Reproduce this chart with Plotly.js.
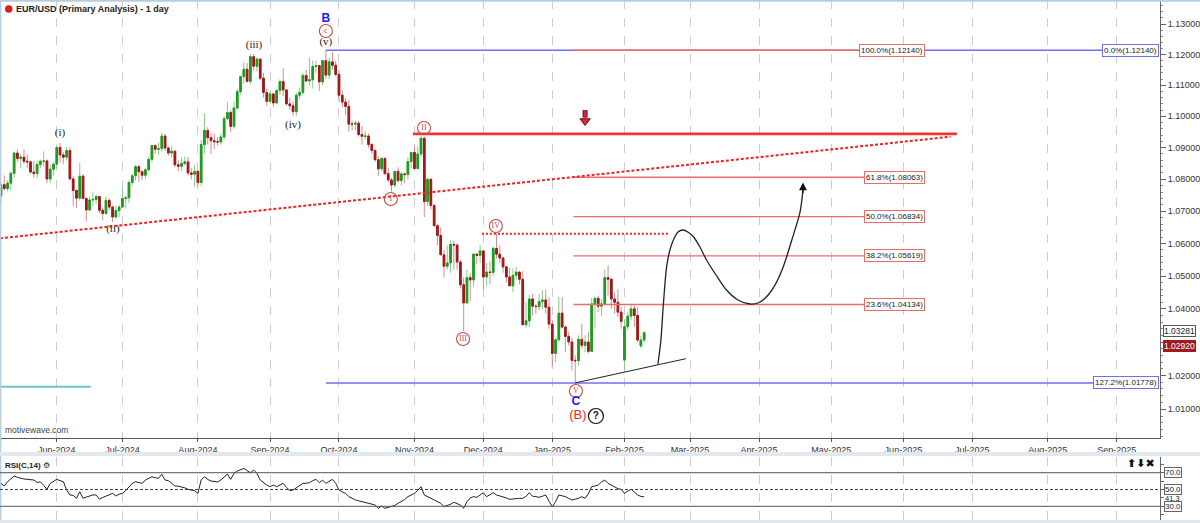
<!DOCTYPE html>
<html><head><meta charset="utf-8">
<script src="https://cdn.plot.ly/plotly-3.0.1.min.js"></script>
<style>html,body{margin:0;padding:0;background:#fff}</style>
</head><body><div id="chart" style="width:1200px;height:523px"></div>
<script>
// ---------- calendar (trading days) ----------
const calendarStart = '2024-05-09';
const calendarEnd = '2025-09-30';
const holidays = ['2024-12-25', '2025-01-01'];

// ---------- price data (daily OHLC, EUR/USD) ----------
const open = [
1.0748,1.0783,1.0771,1.0788,1.0819,1.0883,1.0866,1.0870,1.0857,1.0855,1.0823,1.0818,1.0847,1.0857,1.0858,1.0801,1.0832,
1.0848,1.0901,1.0877,1.0870,1.0891,1.0801,1.0765,1.0741,1.0810,1.0740,1.0704,1.0735,1.0737,1.0746,1.0703,1.0693,1.0734,1.0713,1.0682,1.0702,
1.0713,1.0740,1.0742,1.0790,1.0811,1.0840,1.0824,1.0813,1.0830,1.0863,1.0907,1.0895,1.0897,1.0937,1.0899,1.0883,1.0889,1.0846,1.0841,1.0850,1.0855,1.0820,1.0816,
1.0825,1.0790,1.0910,1.0955,1.0932,1.0922,1.0919,1.0918,1.0934,1.0992,1.1012,1.0968,1.1027,1.1080,1.1128,1.1152,1.1113,1.1193,1.1162,1.1185,1.1123,1.1077,
1.1048,1.1072,1.1043,1.1083,1.1112,1.1085,1.1040,1.1034,1.1015,1.1068,1.1077,1.1132,1.1114,1.1118,1.1161,1.1164,1.1111,1.1180,1.1133,1.1176,1.1165,
1.1135,1.1068,1.1046,1.1032,1.0975,1.0975,1.0978,1.0942,1.0936,1.0937,1.0910,1.0891,1.0862,1.0833,1.0866,1.0818,1.0798,1.0782,1.0825,1.0796,1.0817,1.0815,1.0856,
1.0885,1.0834,1.0880,1.0930,1.0730,1.0800,1.0718,1.0655,1.0625,1.0565,1.0530,1.0540,1.0597,1.0595,1.0543,1.0473,1.0418,1.0495,1.0488,1.0567,1.0563,
1.0577,1.0497,1.0512,1.0511,1.0585,1.0567,1.0555,1.0528,1.0497,1.0470,1.0502,1.0512,1.0490,1.0352,1.0364,1.0430,1.0408,1.0407,1.0422,1.0427,1.0405,
1.0354,1.0266,1.0307,1.0387,1.0345,1.0317,1.0300,1.0245,1.0244,1.0308,1.0290,1.0300,1.0272,1.0415,1.0432,1.0408,1.0415,1.0495,1.0490,1.0430,1.0420,1.0390,
1.0246,1.0346,1.0378,1.0400,1.0380,1.0288,1.0306];
const high = [
1.0791,1.0812,1.0797,1.0825,1.0887,1.0895,1.0880,1.0895,1.0878,1.0860,1.0858,1.0858,1.0862,1.0888,1.0863,1.0847,1.0853,
1.0902,1.0916,1.0886,1.0902,1.0901,1.0809,1.0768,1.0852,1.0816,1.0743,1.0745,1.0761,1.0752,1.0747,1.0712,1.0746,1.0740,1.0718,1.0718,1.0720,
1.0776,1.0748,1.0797,1.0817,1.0845,1.0845,1.0829,1.0836,1.0872,1.0907,1.0910,1.0915,1.0948,1.0945,1.0904,1.0905,1.0891,1.0860,1.0869,1.0872,1.0870,1.0835,1.0845,
1.0830,1.0925,1.1009,1.0965,1.0948,1.0945,1.0933,1.0945,1.1000,1.1047,1.1020,1.1047,1.1088,1.1130,1.1174,1.1172,1.1201,1.1202,1.1190,1.1186,1.1140,1.1089,
1.1079,1.1074,1.1085,1.1120,1.1155,1.1087,1.1060,1.1048,1.1075,1.1093,1.1140,1.1150,1.1190,1.1180,1.1180,1.1166,1.1182,1.1214,1.1190,1.1209,1.1180,
1.1150,1.1085,1.1058,1.1052,1.0986,1.0985,1.0985,1.0969,1.0954,1.0945,1.0915,1.0897,1.0873,1.0870,1.0869,1.0836,1.0804,1.0826,1.0838,1.0823,1.0822,1.0870,1.0885,
1.0905,1.0905,1.0937,1.0935,1.0805,1.0803,1.0723,1.0660,1.0650,1.0580,1.0595,1.0610,1.0609,1.0600,1.0550,1.0497,1.0520,1.0510,1.0570,1.0570,1.0596,
1.0580,1.0540,1.0545,1.0590,1.0630,1.0595,1.0560,1.0530,1.0525,1.0524,1.0528,1.0515,1.0515,1.0420,1.0443,1.0446,1.0415,1.0445,1.0456,1.0458,1.0435,
1.0366,1.0310,1.0437,1.0436,1.0350,1.0330,1.0313,1.0260,1.0320,1.0355,1.0320,1.0330,1.0433,1.0435,1.0440,1.0430,1.0520,1.0533,1.0495,1.0450,1.0460,1.0405,
1.0370,1.0390,1.0412,1.0410,1.0405,1.0318,1.0332];
const low = [
1.0724,1.0765,1.0763,1.0767,1.0805,1.0856,1.0835,1.0848,1.0836,1.0818,1.0805,1.0804,1.0836,1.0841,1.0788,1.0789,1.0812,
1.0835,1.0853,1.0848,1.0859,1.0801,1.0717,1.0710,1.0733,1.0738,1.0668,1.0700,1.0715,1.0723,1.0695,1.0671,1.0690,1.0702,1.0666,1.0677,1.0681,
1.0710,1.0708,1.0725,1.0780,1.0797,1.0791,1.0797,1.0800,1.0826,1.0853,1.0880,1.0876,1.0887,1.0890,1.0875,1.0870,1.0838,1.0825,1.0826,1.0842,1.0813,1.0800,1.0775,
1.0777,1.0778,1.0882,1.0910,1.0880,1.0896,1.0907,1.0910,1.0925,1.0990,1.0950,1.0960,1.1020,1.1070,1.1105,1.1108,1.1103,1.1150,1.1145,1.1117,1.1060,1.1034,
1.1040,1.1031,1.1040,1.1070,1.1065,1.1035,1.1020,1.1002,1.1000,1.1055,1.1070,1.1110,1.1100,1.1090,1.1140,1.1082,1.1100,1.1120,1.1120,1.1150,1.1130,
1.1045,1.1030,1.1003,1.0951,1.0955,1.0955,1.0935,1.0910,1.0925,1.0900,1.0880,1.0855,1.0811,1.0826,1.0813,1.0792,1.0761,1.0775,1.0790,1.0780,1.0788,1.0800,1.0835,
1.0830,1.0830,1.0870,1.0682,1.0716,1.0705,1.0653,1.0595,1.0565,1.0496,1.0520,1.0510,1.0520,1.0520,1.0462,1.0332,1.0415,1.0425,1.0468,1.0535,1.0540,
1.0460,1.0470,1.0475,1.0500,1.0553,1.0540,1.0510,1.0480,1.0470,1.0450,1.0490,1.0475,1.0350,1.0343,1.0345,1.0380,1.0385,1.0395,1.0400,1.0385,1.0340,
1.0226,1.0240,1.0300,1.0340,1.0270,1.0290,1.0215,1.0178,1.0230,1.0280,1.0270,1.0265,1.0270,1.0340,1.0390,1.0378,1.0412,1.0440,1.0400,1.0385,1.0375,1.0340,
1.0211,1.0335,1.0366,1.0345,1.0300,1.0282,1.0298];
const close = [
1.0783,1.0771,1.0788,1.0819,1.0883,1.0866,1.0870,1.0857,1.0855,1.0823,1.0818,1.0847,1.0857,1.0858,1.0801,1.0832,1.0848,
1.0901,1.0877,1.0870,1.0891,1.0801,1.0765,1.0741,1.0810,1.0740,1.0704,1.0735,1.0737,1.0746,1.0703,1.0693,1.0734,1.0713,1.0682,1.0702,1.0713,
1.0740,1.0742,1.0790,1.0811,1.0840,1.0824,1.0813,1.0830,1.0863,1.0907,1.0895,1.0897,1.0937,1.0899,1.0883,1.0889,1.0846,1.0841,1.0850,1.0855,1.0820,1.0816,1.0825,
1.0790,1.0910,1.0955,1.0932,1.0922,1.0919,1.0918,1.0934,1.0992,1.1012,1.0968,1.1027,1.1080,1.1128,1.1152,1.1113,1.1193,1.1162,1.1185,1.1123,1.1077,1.1048,
1.1072,1.1043,1.1083,1.1112,1.1085,1.1040,1.1034,1.1015,1.1068,1.1077,1.1132,1.1114,1.1118,1.1161,1.1164,1.1111,1.1180,1.1133,1.1176,1.1165,1.1135,
1.1068,1.1046,1.1032,1.0975,1.0975,1.0978,1.0942,1.0936,1.0937,1.0910,1.0891,1.0862,1.0833,1.0866,1.0818,1.0798,1.0782,1.0825,1.0796,1.0817,1.0815,1.0856,1.0885,
1.0834,1.0880,1.0930,1.0730,1.0800,1.0718,1.0655,1.0625,1.0565,1.0530,1.0540,1.0597,1.0595,1.0543,1.0473,1.0418,1.0495,1.0488,1.0567,1.0563,1.0577,
1.0497,1.0512,1.0511,1.0585,1.0567,1.0555,1.0528,1.0497,1.0470,1.0502,1.0512,1.0490,1.0352,1.0364,1.0430,1.0408,1.0407,1.0422,1.0427,1.0405,1.0354,
1.0266,1.0307,1.0387,1.0345,1.0317,1.0300,1.0245,1.0244,1.0308,1.0290,1.0300,1.0272,1.0415,1.0432,1.0408,1.0415,1.0495,1.0490,1.0430,1.0420,1.0390,1.0362,
1.0346,1.0378,1.0400,1.0380,1.0306,1.0306,1.03281];

// ---------- RSI(C,14) values ----------
const rsi = [
57.3,54.2,59.3,63,66,64.5,63.3,62.5,62.1,61.5,61.3,58.5,59,55,50.2,57.3,60,
62.1,60.5,59.3,49.4,43.5,43,39.5,47.4,39.5,41,42.3,43.5,43.5,38.5,40.5,42.3,44,45.4,42.3,44.5,
45.4,48.6,53,57.3,59.3,58.3,57.3,61.3,63,65.2,64,63.3,68,61.3,60.5,57,54.2,54,53.4,52,50.2,49,48.6,
45.4,61.3,65.2,62,60.1,59.5,58.9,61.3,65,68.4,62.1,69.2,72,74,75.1,72.4,70,73.2,69.2,61.3,58,55.3,
53.4,55.3,53.4,55.5,57.3,52.6,48.6,49.4,52,55.3,57.3,57.5,58.1,60.5,62.1,58.1,61.3,57.3,60,62.1,57.3,
49.4,47,45.4,41.5,39.5,37.5,36.5,35.5,34.5,33.6,32.5,31.6,27.6,30.4,27.6,28.5,29.6,31,33.6,35.5,38,41.5,43.5,
45.4,49,53.4,43.5,41.5,40,37.5,35.5,33.6,29.6,31,32.4,34.8,33.6,31.5,27.6,35.5,40,41.5,40.7,44,
46.2,41.5,43.5,46.2,43.5,42.5,41.5,40,38.3,39,39.5,39.5,39.5,42,46.2,42,41.5,40.7,42,43.5,36,
29.6,35.5,43.5,42.5,41.5,39.5,37.5,38.5,39.5,41.5,39.5,45,53.4,54.2,55.3,59,61.3,57.3,55,53.4,51,50.2,
45.4,48,50.2,47,43.5,41.8,41.3];

// ---------- price scale ticks (1.03000 is hidden behind the price boxes) ----------
const priceTicks = [1.01,1.02,1.03,1.04,1.05,1.06,1.07,1.08,1.09,1.10,1.11,1.12,1.13];
const hiddenTickLabels = [1.03];
const priceTickText = priceTicks.map(v => hiddenTickLabels.indexOf(v) >= 0 ? '' : v.toFixed(5));

// ---------- Fibonacci levels ----------
const fibRetrace = [
  {label:'100.0%', value:1.12140},
  {label:'61.8%', value:1.08063},
  {label:'50.0%', value:1.06834},
  {label:'38.2%', value:1.05619},
  {label:'23.6%', value:1.04134}];
const fibExtension = [
  {label:'0.0%', value:1.12140},
  {label:'127.2%', value:1.01778}];
const lastValues = {close:1.03281, bid:1.02920, rsi:41.3};

// ---------- helpers ----------
const DAY = 86400000;
function tradingDays(start, end, skip){
  const out = [];
  let t = Date.parse(start + 'T12:00:00Z');
  const e = Date.parse(end + 'T12:00:00Z');
  while (t <= e) {
    const d = new Date(t), wd = d.getUTCDay(), s = d.toISOString().slice(0,10);
    if (wd !== 0 && wd !== 6 && skip.indexOf(s) < 0) out.push(t);
    t += DAY;
  }
  return out;
}
function fmt(ms){ return new Date(ms).toISOString().slice(0,16).replace('T',' '); }
const calMs = tradingDays(calendarStart, calendarEnd, holidays);
// fractional bar position -> date that never falls inside a weekend/holiday gap
function barDate(i){
  if (i < 0) return fmt(calMs[0] + i*DAY);
  const b = Math.floor(i), f = i - b;
  if (f < 0.5) return fmt(calMs[b] + f*DAY);
  return fmt(calMs[b+1] - (1-f)*DAY + 120000);
}
const L = v => Math.log10(v);
const dates = calMs.slice(0, close.length).map(fmt);

// month ticks
const monthTicks = [], monthText = [];
const MON = ['Jan','Feb','Mar','Apr','May','Jun','Jul','Aug','Sep','Oct','Nov','Dec'];
let prevM = -1;
calMs.forEach((t,i) => {
  const d = new Date(t), m = d.getUTCMonth();
  if (m !== prevM) { if (i > 0) { monthTicks.push(fmt(t)); monthText.push(MON[m] + '-' + d.getUTCFullYear()); } prevM = m; }
});

// ---------- drawing anchors (bar positions of the analyst's drawings) ----------
const xRange = [barDate(-0.305), barDate(353.2)];
const fibRetraceSpan = [174.45, 281.6];
const fibExtSpan = [99, 352.9];
const waveTwoLevel = {from:125.5, to:291.3, value:1.0944};
const trendChannel = {from:-0.305, fromValue:1.0616, to:289.4, toValue:1.0935};
const waveFourLevel = {from:146.55, to:203.6, value:1.0630};
const supportLine = {from:175, fromValue:1.0178, to:208.7, toValue:1.0250};
const tealLevel = {from:-0.305, to:27.3, value:1.01667};
const sellArrow = {at:178, shaftTop:1.1020, shaftBottom:1.0996, head:1.0985};
const projection = [
  [200.2,1.02342],[201.1,1.0306],[201.8,1.04065],[202.85,1.05286],[203.85,1.05799],[204.9,1.06107],
  [206.3,1.06355],[207.9,1.06417],[209.3,1.06355],[211.0,1.06209],[213.0,1.05891],[215.0,1.05492],
  [217.9,1.05031],[221.1,1.04572],[224.6,1.04268],[228.2,1.04147],[230.7,1.04177],[233.3,1.04368],
  [235.9,1.0473],[238.4,1.05286],[241.0,1.06107],[243.5,1.06976],[244.4,1.0766]];

const wavePlain = [
  {t:'(i)', i:18.0, v:1.09467}, {t:'(ii)', i:34.1, v:1.06448}, {t:'(iii)', i:77.1, v:1.12311},
  {t:'(iv)', i:89.0, v:1.09724}, {t:'(v)', i:99.0, v:1.12410}];
const waveCircled = [
  {t:'c', i:99.0, v:1.12770}, {t:'II', i:128.9, v:1.09628}, {t:'I', i:118.8, v:1.07383},
  {t:'III', i:140.8, v:1.03090}, {t:'IV', i:150.8, v:1.06541}, {t:'V', i:175.2, v:1.01540}];

// ---------- traces ----------
const FONT = 'Liberation Sans, Arial, sans-serif';
const traces = [];
// blue fib extension lines
fibExtension.forEach(f => traces.push({type:'scatter', mode:'lines', x:[barDate(fibExtSpan[0]), barDate(fibExtSpan[1])], y:[f.value,f.value],
  line:{color:'#6f6ff2', width:1.6}, hoverinfo:'skip'}));
// red fib retracement lines
fibRetrace.forEach(f => traces.push({type:'scatter', mode:'lines', x:[barDate(fibRetraceSpan[0]), barDate(fibRetraceSpan[1])], y:[f.value,f.value],
  line:{color:'#f06a6a', width:1.4}, hoverinfo:'skip'}));
// teal level
traces.push({type:'scatter', mode:'lines', x:[barDate(tealLevel.from), barDate(tealLevel.to)], y:[tealLevel.value,tealLevel.value],
  line:{color:'#6cc6c4', width:2}, hoverinfo:'skip'});
// candle wicks (full range)
traces.push({type:'candlestick', x:dates, open:open, high:high, low:low, close:close,
  increasing:{line:{color:'#8cc98c', width:1}, fillcolor:'#8cc98c'},
  decreasing:{line:{color:'#cf9090', width:1}, fillcolor:'#cf9090'},
  hoverinfo:'skip', xaxis:'x', yaxis:'y'});
// candle bodies
traces.push({type:'candlestick', x:dates, open:open, close:close,
  high:open.map((o,k)=>Math.max(o,close[k])), low:open.map((o,k)=>Math.min(o,close[k])),
  increasing:{line:{color:'#1f9a1f', width:1}, fillcolor:'#1f9a1f'},
  decreasing:{line:{color:'#a01818', width:1}, fillcolor:'#a01818'},
  hoverinfo:'skip', xaxis:'x', yaxis:'y'});
// red dashed channel line
traces.push({type:'scatter', mode:'lines', x:[barDate(trendChannel.from), barDate(trendChannel.to)], y:[trendChannel.fromValue, trendChannel.toValue],
  line:{color:'#ee2020', width:2, dash:'3px,2px'}, hoverinfo:'skip'});
// wave (ii) level
traces.push({type:'scatter', mode:'lines', x:[barDate(waveTwoLevel.from), barDate(waveTwoLevel.to)], y:[waveTwoLevel.value,waveTwoLevel.value],
  line:{color:'#f03535', width:2.6}, hoverinfo:'skip'});
// wave (iv) dotted level
traces.push({type:'scatter', mode:'lines', x:[barDate(waveFourLevel.from), barDate(waveFourLevel.to)], y:[waveFourLevel.value,waveFourLevel.value],
  line:{color:'#ee2020', width:2, dash:'2px,2px'}, hoverinfo:'skip'});
// support line
traces.push({type:'scatter', mode:'lines', x:[barDate(supportLine.from), barDate(supportLine.to)], y:[supportLine.fromValue, supportLine.toValue],
  line:{color:'#222', width:1}, hoverinfo:'skip'});
// projection path
traces.push({type:'scatter', mode:'lines', x:projection.map(p=>barDate(p[0])), y:projection.map(p=>p[1]),
  line:{color:'#222', width:1.3, shape:'spline', smoothing:0.8}, hoverinfo:'skip'});
// red sell arrow: outlined shaft + head
traces.push({type:'scatter', mode:'lines', x:[barDate(sellArrow.at), barDate(sellArrow.at)], y:[sellArrow.shaftTop, sellArrow.shaftBottom],
  line:{color:'#5a1414', width:5}, hoverinfo:'skip'});
traces.push({type:'scatter', mode:'lines', x:[barDate(sellArrow.at), barDate(sellArrow.at)], y:[sellArrow.shaftTop*0.99995, sellArrow.shaftBottom],
  line:{color:'#e0203c', width:3}, hoverinfo:'skip'});
traces.push({type:'scatter', mode:'markers', x:[barDate(sellArrow.at)], y:[sellArrow.head],
  marker:{symbol:'triangle-down', size:9, color:'#e0203c', line:{color:'#5a1414', width:1}}, hoverinfo:'skip'});
// plain wave labels
traces.push({type:'scatter', mode:'text', x:wavePlain.map(w=>barDate(w.i)), y:wavePlain.map(w=>w.v), text:wavePlain.map(w=>w.t),
  textfont:{family:'Liberation Serif, Times New Roman, serif', size:11, color:'#222'}, textposition:'middle center', hoverinfo:'skip', cliponaxis:false});
// circled wave labels
traces.push({type:'scatter', mode:'markers+text', x:waveCircled.map(w=>barDate(w.i)), y:waveCircled.map(w=>w.v), text:waveCircled.map(w=>w.t),
  marker:{symbol:'circle-open', size:13, color:'#c8484a', line:{width:1.1}},
  textfont:{family:'Liberation Serif, Times New Roman, serif', size:8, color:'#c8484a'}, textposition:'middle center', hoverinfo:'skip'});
// B / C / (B) / ?
traces.push({type:'scatter', mode:'text', x:[barDate(99), barDate(175.2)], y:[1.13165, 1.01215], text:['<b>B</b>','<b>C</b>'],
  textfont:{family:FONT, size:12, color:'#1a1aff'}, textposition:'middle center', hoverinfo:'skip'});
traces.push({type:'scatter', mode:'text', x:[barDate(175.8)], y:[1.00803], text:['(B)'],
  textfont:{family:FONT, size:13, color:'#f02525'}, textposition:'middle center', hoverinfo:'skip'});
traces.push({type:'scatter', mode:'markers+text', x:[barDate(181.3)], y:[1.00803], text:['<b>?</b>'],
  marker:{symbol:'circle-open', size:15, color:'#111', line:{width:1.2}},
  textfont:{family:FONT, size:10, color:'#111'}, textposition:'middle center', hoverinfo:'skip'});
// RSI
traces.push({type:'scatter', mode:'lines', x:dates, y:rsi, xaxis:'x2', yaxis:'y2',
  line:{color:'#222', width:1}, hoverinfo:'skip'});

// ---------- annotations ----------
const ann = [];
fibRetrace.forEach(f => ann.push({xref:'x', yref:'y', x:barDate(fibRetraceSpan[1]), y:L(f.value), xanchor:'right', yanchor:'middle',
  text:f.label + '(' + f.value.toFixed(5) + ')', showarrow:false, font:{family:FONT, size:8, color:'#222'},
  bgcolor:'#fff', bordercolor:'#f06a6a', borderwidth:1, borderpad:1}));
fibExtension.forEach(f => ann.push({xref:'x', yref:'y', x:barDate(fibExtSpan[1]), y:L(f.value), xanchor:'right', yanchor:'middle',
  text:f.label + '(' + f.value.toFixed(5) + ')', showarrow:false, font:{family:FONT, size:8, color:'#222'},
  bgcolor:'#fff', bordercolor:'#6f6ff2', borderwidth:1, borderpad:1}));
// projection arrow head
const tip = projection[projection.length-1];
ann.push({xref:'x', yref:'y', x:barDate(tip[0]), y:L(1.0790), ax:0, ay:12, showarrow:true, arrowhead:2, arrowsize:1.2, arrowwidth:1.3, arrowcolor:'#111', text:''});
// price labels on the axis
ann.push({xref:'paper', yref:'y', x:1, xshift:3, yshift:1.5, y:L(lastValues.close), xanchor:'left', yanchor:'middle', text:lastValues.close.toFixed(5),
  showarrow:false, font:{family:FONT, size:8.5, color:'#222'}, bgcolor:'#fff', bordercolor:'#555', borderwidth:1, borderpad:0});
ann.push({xref:'paper', yref:'y', x:1, xshift:3, yshift:-1, y:L(lastValues.bid), xanchor:'left', yanchor:'middle', text:lastValues.bid.toFixed(5),
  showarrow:false, font:{family:FONT, size:8.5, color:'#fff'}, bgcolor:'#9c1c22', bordercolor:'#9c1c22', borderwidth:1, borderpad:0});
// RSI labels
[70,50,30].forEach(v => ann.push({xref:'paper', yref:'y2', x:1, xshift:4, y:v, xanchor:'left', yanchor:'middle', text:v.toFixed(1),
  showarrow:false, font:{family:FONT, size:8, color:'#222'}, bgcolor:'#fff', bordercolor:'#666', borderwidth:1, borderpad:0}));
ann.push({xref:'paper', yref:'y2', x:1, xshift:4, y:lastValues.rsi - 2.5, xanchor:'left', yanchor:'middle', text:lastValues.rsi.toFixed(1),
  showarrow:false, font:{family:FONT, size:7.5, color:'#222'}, borderpad:0});
// titles and texts
ann.push({xref:'paper', yref:'paper', x:14/1160, y:(523-9)/523, xanchor:'left', yanchor:'middle', showarrow:false,
  text:'<b>EUR/USD (Primary Analysis) - 1 day</b>', font:{family:FONT, size:9, color:'#222'}});
ann.push({xref:'paper', yref:'paper', x:3/1160, y:(523-430)/523, xanchor:'left', yanchor:'middle', showarrow:false,
  text:'motivewave.com', font:{family:FONT, size:8.5, color:'#444'}});
ann.push({xref:'paper', yref:'paper', x:3/1160, y:(523-465)/523, xanchor:'left', yanchor:'middle', showarrow:false,
  text:'<b>RSI(C,14)</b> ⚙', font:{family:FONT, size:8, color:'#222'}});
ann.push({xref:'paper', yref:'paper', x:1157/1160, y:(523-463)/523, xanchor:'right', yanchor:'middle', showarrow:false,
  text:'<b>⬆⬇✖</b>', font:{family:'DejaVu Sans', size:11, color:'#111'}});

// ---------- shapes (frame, RSI guide lines) ----------
const shapes = [
  {type:'line', xref:'paper', yref:'paper', x0:0, x1:1200/1160, y0:(523-0.8)/523, y1:(523-0.8)/523, line:{color:'#b8cce0', width:2}},
  {type:'line', xref:'paper', yref:'paper', x0:0.0005, x1:0.0005, y0:0, y1:1, line:{color:'#b8cce0', width:1.5}},
  {type:'rect', xref:'paper', yref:'paper', x0:0, x1:1200/1160, y0:(523-456)/523, y1:(523-452)/523, fillcolor:'#e3e8ee', line:{width:0}},
  {type:'rect', xref:'paper', yref:'paper', x0:0, x1:1200/1160, y0:0, y1:3/523, fillcolor:'#e3e8ee', line:{width:0}},
  {type:'circle', xref:'paper', yref:'paper', x0:5/1160, x1:12.5/1160, y0:(523-12.8)/523, y1:(523-5.3)/523, fillcolor:'#e21b1b', line:{width:0}},
  {type:'line', xref:'paper', yref:'y2', x0:0, x1:1, y0:70, y1:70, line:{color:'#555', width:1}},
  {type:'line', xref:'paper', yref:'y2', x0:0, x1:1, y0:30, y1:30, line:{color:'#555', width:1}},
  {type:'line', xref:'paper', yref:'y2', x0:0, x1:1, y0:50, y1:50, line:{color:'#444', width:1, dash:'3px,2px'}}
];

const minorTicks = [];
for (let k = 1002; k <= 1136; k += 2) { if (k % 10 !== 0) minorTicks.push(k/1000); }
const rangebreaks = [{bounds:['sat','mon']}, {values:holidays}];

const layout = {
  width:1200, height:523, margin:{l:0, r:40, t:0, b:0},
  paper_bgcolor:'#fff', plot_bgcolor:'#fff', showlegend:false, hovermode:false,
  font:{family:FONT},
  xaxis:{type:'date', range:xRange, rangebreaks:rangebreaks, anchor:'y', domain:[0,1],
    tickmode:'array', tickvals:monthTicks, ticktext:monthText, tickfont:{family:FONT, size:9, color:'#333'},
    showgrid:true, gridcolor:'#cdcdcd', griddash:'dash', gridwidth:1, showline:true, linecolor:'#555', linewidth:1,
    ticks:'outside', ticklen:3, tickcolor:'#555', zeroline:false, fixedrange:true, rangeslider:{visible:false}},
  yaxis:{type:'log', range:[0.000690, 0.056115], domain:[0.16252,1], side:'right', anchor:'x',
    tickmode:'array', tickvals:priceTicks, ticktext:priceTickText, tickfont:{family:FONT, size:9, color:'#333'},
    showgrid:false, showline:true, linecolor:'#666', linewidth:1, ticks:'outside', ticklen:5, tickcolor:'#666',
    minor:{tickmode:'array', tickvals:minorTicks, ticks:'outside', ticklen:2, tickcolor:'#888', showgrid:false}, zeroline:false, fixedrange:true},
  xaxis2:{type:'date', range:xRange, rangebreaks:rangebreaks, anchor:'y2', domain:[0,1],
    tickmode:'array', tickvals:monthTicks, showticklabels:false, ticks:'',
    showgrid:true, gridcolor:'#cdcdcd', griddash:'dash', gridwidth:1, showline:false, zeroline:false, fixedrange:true},
  yaxis2:{range:[13.7,88.7], domain:[0.00574,0.1262], side:'right', anchor:'x2', showticklabels:false, showgrid:false,
    showline:true, linecolor:'#666', ticks:'outside', ticklen:3, tickcolor:'#666', tickvals:[20,30,40,50,60,70,80], zeroline:false, fixedrange:true},
  annotations:ann, shapes:shapes
};

Plotly.newPlot('chart', traces, layout, {staticPlot:true, displayModeBar:false});
</script>
</body></html>
